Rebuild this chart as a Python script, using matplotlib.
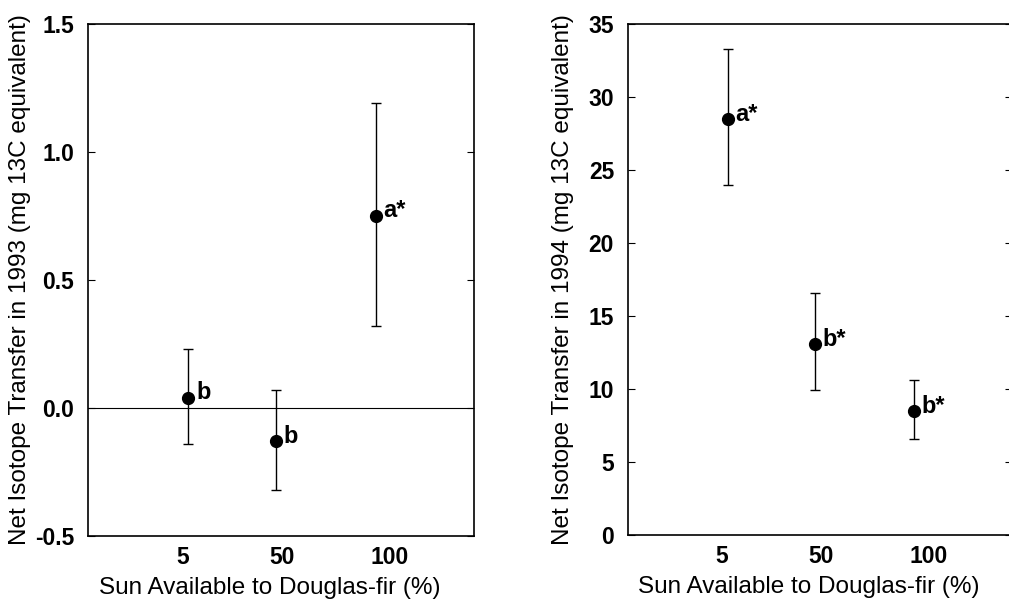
import matplotlib
import matplotlib.pyplot as plt

matplotlib.use("Agg")

plt.rcParams["font.family"] = ["Liberation Sans", "DejaVu Sans"]

# Sun treatments and their slot on the category axis
sun_labels = ["5", "50", "100"]
point_x = [1.04, 1.95, 2.98]
label_x = [0.98, 2.01, 3.13]

# 1993 transfer: means with lower / upper error limits
mean_1993 = [0.04, -0.13, 0.75]
low_1993 = [-0.14, -0.32, 0.32]
high_1993 = [0.23, 0.07, 1.19]
letters_1993 = ["b", "b", "a*"]

# 1994 transfer
mean_1994 = [28.5, 13.1, 8.5]
low_1994 = [24.0, 9.9, 6.6]
high_1994 = [33.3, 16.6, 10.6]
letters_1994 = ["a*", "b*", "b*"]

W, H = 1009, 615
fig = plt.figure(figsize=(W / 100, H / 100), dpi=100)
ax1 = fig.add_axes([88 / W, 1 - 536 / H, 386 / W, 512 / H])
ax2 = fig.add_axes([628 / W, 1 - 535 / H, 384 / W, 511 / H])


def draw_panel(ax, means, lows, highs, letters, ylim, yticks, yticklabels, ylabel,
               dy, ylabel_x):
    yerr = [[m - lo for m, lo in zip(means, lows)], [hi - m for m, hi in zip(means, highs)]]
    ax.errorbar(point_x, means, yerr=yerr, fmt="o", color="black", markersize=8.5,
                elinewidth=1.0, capsize=3.5, capthick=1.0)
    for x, y, t in zip(point_x, means, letters):
        ax.text(x + 0.08, y + dy, t, fontsize=17, fontweight="bold", ha="left", va="center")
    ax.set_xlim(0, 4)
    ax.set_ylim(*ylim)
    ax.set_xticks(label_x)
    ax.set_xticklabels(sun_labels, fontsize=16.5, fontweight="bold")
    ax.tick_params(axis="x", length=0, pad=7)
    ax.set_yticks(yticks)
    ax.set_yticklabels(yticklabels, fontsize=16.5, fontweight="bold")
    ax.tick_params(axis="y", direction="in", length=5, width=0.8, right=True, pad=10)
    for s in ax.spines.values():
        s.set_linewidth(1.2)
    ax.set_xlabel("Sun Available to Douglas-fir (%)", fontsize=17.5)
    ax.xaxis.set_label_coords(0.47, -0.102)
    ax.xaxis.label.set_verticalalignment("center")
    ax.set_ylabel(ylabel, fontsize=17.5)
    ax.yaxis.set_label_coords(ylabel_x, 0.5)
    ax.yaxis.label.set_verticalalignment("center")


draw_panel(ax1, mean_1993, low_1993, high_1993, letters_1993, (-0.5, 1.5),
           [-0.5, 0.0, 0.5, 1.0, 1.5], ["-0.5", "0.0", "0.5", "1.0", "1.5"],
           "Net Isotope Transfer in 1993 (mg 13C equivalent)", 0.02, -68 / 386)
ax1.axhline(0, color="black", linewidth=0.8)

draw_panel(ax2, mean_1994, low_1994, high_1994, letters_1994, (0, 35),
           [0, 5, 10, 15, 20, 25, 30, 35], ["0", "5", "10", "15", "20", "25", "30", "35"],
           "Net Isotope Transfer in 1994 (mg 13C equivalent)", 0.3, -65 / 384)

fig.savefig("out.png", dpi=100)
plt.close(fig)
